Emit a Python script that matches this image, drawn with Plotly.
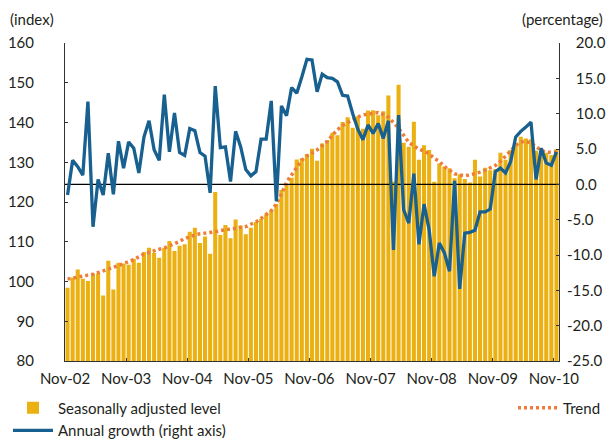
import plotly.graph_objects as go

# ---------------------------------------------------------------------------
# Data (monthly, Nov-02 .. Nov-10)
# ---------------------------------------------------------------------------
YEAR_LABELS = ["Nov-02", "Nov-03", "Nov-04", "Nov-05", "Nov-06",
               "Nov-07", "Nov-08", "Nov-09", "Nov-10"]

LEVEL = [
    98.4, 101.0, 103.0, 100.7, 100.1, 102.0, 102.0, 96.5, 105.2, 98.0, 104.7, 104.5,
    104.2, 105.7, 104.7, 107.4, 108.5, 107.2, 106.0, 108.5, 110.2, 107.7, 109.0, 109.4,
    112.5, 113.5, 109.7, 111.3, 107.0, 122.5, 111.7, 114.2, 110.9, 115.6, 114.1, 111.9,
    113.5, 115.0, 115.8, 116.9, 118.0, 119.5, 123.0, 124.5, 126.1, 130.7, 131.0, 132.1,
    133.4, 130.4, 134.7, 135.6, 137.4, 136.8, 140.1, 141.3, 138.7, 141.6, 138.4, 143.0,
    143.1, 141.8, 142.8, 146.8, 125.1, 149.5, 134.9, 133.9, 140.2, 130.6, 134.3, 133.1,
    125.1, 129.7, 128.9, 128.5, 126.0, 127.0, 125.8, 124.9, 130.6, 126.4, 128.6, 128.0,
    128.3, 132.4, 130.6, 133.1, 134.3, 136.4, 136.0, 135.8, 132.9, 132.4, 132.4, 131.8,
    133.3,
]

TREND = [
    100.6, 100.9, 101.1, 101.3, 101.6, 101.8, 102.2, 102.6, 103.0, 103.6, 104.0, 104.5,
    104.9, 105.5, 106.2, 106.9, 107.3, 107.8, 108.1, 108.4, 108.9, 109.5, 110.1, 110.8,
    111.3, 111.7, 112.0, 112.1, 112.3, 112.5, 112.8, 113.0, 113.2, 113.3, 113.5, 113.8,
    114.4, 115.0, 115.9, 116.8, 117.8, 119.5, 122.0, 125.0, 126.8, 128.8, 130.5, 131.6,
    132.4, 133.1, 134.2, 135.2, 136.8, 138.2, 139.2, 140.0, 140.8, 141.4, 141.9, 142.1,
    142.4, 142.5, 142.0, 141.3, 140.0, 138.6, 136.8, 135.0, 134.1, 133.3, 132.8, 132.1,
    131.0, 130.2, 128.9, 128.1, 127.1, 126.8, 126.6, 126.8, 127.1, 127.5, 128.0, 128.6,
    129.2, 130.2, 131.5, 133.1, 134.2, 135.1, 135.3, 134.8, 134.0, 133.0, 132.5, 132.5,
    132.6,
]

GROWTH = [
    -1.5, 3.4, 2.5, 1.3, 11.7, -6.0, 0.7, -1.5, 4.4, -1.4, 6.1, 2.3,
    6.0, 5.1, 1.6, 6.7, 9.0, 4.9, 3.4, 12.7, 4.6, 10.1, 4.5, 4.1,
    7.9, 7.6, 4.5, 4.0, -1.2, 13.9, 5.2, 5.3, 0.4, 7.5, 5.3, 2.1,
    1.2, 1.8, 6.4, 6.4, 11.8, -2.4, 11.1, 9.7, 13.7, 12.9, 15.2, 17.7,
    17.6, 13.1, 15.6, 15.1, 15.0, 14.5, 12.6, 12.5, 10.0, 7.8, 6.3, 8.4,
    7.2, 8.6, 6.5, 9.0, -9.3, 9.8, -3.6, -5.5, 1.5, -8.5, -2.8, -6.4,
    -13.0, -8.3, -9.7, -12.3, 0.5, -14.8, -6.9, -6.8, -6.5, -3.9, -3.9, -3.5,
    1.8, 2.3, 1.6, 3.2, 6.7, 7.5, 8.1, 8.8, 0.7, 5.1, 3.0, 2.7,
    4.6,
]

LEFT_TICKS = [80, 90, 100, 110, 120, 130, 140, 150, 160]
RIGHT_TICKS = [-25, -20, -15, -10, -5, 0, 5, 10, 15, 20]

# ---------------------------------------------------------------------------
# Styling
# ---------------------------------------------------------------------------
BAR_COLOR = "#EBB012"
TREND_COLOR = "#EE7D3B"
GROWTH_COLOR = "#17608F"
TEXT_COLOR = "#231F20"
FONT = "Lato"

# the page body adds an 8px margin, so the figure has to fit inside it
FIG_W, FIG_H = 598, 431
MARGIN = dict(l=57, r=47, t=35, b=78)
PLOT_W = FIG_W - MARGIN["l"] - MARGIN["r"]
PLOT_H = FIG_H - MARGIN["t"] - MARGIN["b"]

months = list(range(len(LEVEL)))
year_ticks = [12 * k - 0.5 for k in range(len(YEAR_LABELS))]

fig = go.Figure()

fig.add_trace(go.Bar(
    x=months, y=LEVEL, name="Seasonally adjusted level",
    marker=dict(color=BAR_COLOR, line=dict(width=0)),
    legend="legend", yaxis="y",
))
fig.add_trace(go.Scatter(
    x=months, y=TREND, name="Trend", mode="lines",
    line=dict(color=TREND_COLOR, width=3.5, dash="3px,3px"),
    legend="legend2", yaxis="y",
))
# zero reference line on the right axis
fig.add_trace(go.Scatter(
    x=[months[0] - 0.5, months[-1] + 0.5], y=[0, 0], mode="lines",
    line=dict(color="black", width=1.2), showlegend=False,
    hoverinfo="skip", yaxis="y2",
))
fig.add_trace(go.Scatter(
    x=months, y=GROWTH, name="Annual growth (right axis)", mode="lines",
    line=dict(color=GROWTH_COLOR, width=3.3),
    legend="legend", yaxis="y2",
))

axis_common = dict(
    showgrid=False, zeroline=False, showline=True, linecolor="#333",
    linewidth=1, ticks="inside", ticklen=3, tickcolor="#333",
    tickfont=dict(family=FONT, size=15, color=TEXT_COLOR),
    automargin=False,
)

fig.update_layout(
    width=FIG_W, height=FIG_H,
    margin=dict(**MARGIN, autoexpand=False),
    paper_bgcolor="white", plot_bgcolor="white",
    font=dict(family=FONT, size=15, color=TEXT_COLOR),
    bargap=0.2,
    xaxis=dict(
        range=[-0.5, len(LEVEL) - 0.5],
        tickvals=year_ticks, ticktext=YEAR_LABELS, tickangle=0,
        ticklabelstandoff=4,
        **axis_common,
    ),
    yaxis=dict(
        range=[80, 160], tickvals=LEFT_TICKS,
        ticklabelstandoff=27,
        **axis_common,
    ),
    yaxis2=dict(
        range=[-25, 20], tickvals=RIGHT_TICKS,
        ticktext=[f"{v:.1f}" if v < 0 else "\u2007" + f"{v:.1f}" for v in RIGHT_TICKS],
        overlaying="y", side="right",
        ticklabelstandoff=4,
        **axis_common,
    ),
    legend=dict(
        xref="container", yref="container", x=0.0, y=0.11,
        xanchor="left", yanchor="top", orientation="v",
        bgcolor="rgba(0,0,0,0)", font=dict(size=15),
        tracegroupgap=0, itemwidth=40,
    ),
    legend2=dict(
        xref="container", yref="container", x=1.0, y=0.11,
        xanchor="right", yanchor="top", orientation="v",
        bgcolor="rgba(0,0,0,0)", font=dict(size=15), itemwidth=40,
    ),
    showlegend=True,
    annotations=[
        dict(text="(index)", xref="paper", yref="paper",
             x=-MARGIN["l"] / PLOT_W, y=1 + MARGIN["t"] / PLOT_H,
             xanchor="left", yanchor="top", showarrow=False,
             font=dict(size=15)),
        dict(text="(percentage)", xref="paper", yref="paper",
             x=1 + (MARGIN["r"] - 1) / PLOT_W, y=1 + MARGIN["t"] / PLOT_H,
             xanchor="right", yanchor="top", showarrow=False,
             font=dict(size=15)),
    ],
)

fig.write_html("out.html")
